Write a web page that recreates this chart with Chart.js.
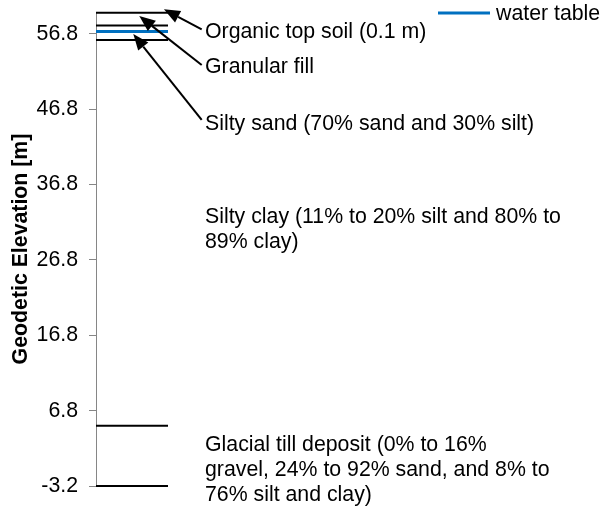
<!DOCTYPE html>
<html>
<head>
<meta charset="utf-8">
<script src="https://cdn.jsdelivr.net/npm/chart.js@4/dist/chart.umd.min.js"></script>
<style>
  body { margin: 0; background: #fff; }
  canvas { display: block; }
</style>
</head>
<body>
<canvas id="myChart" width="603" height="506"></canvas>
<script>
// layer boundaries (geodetic elevation, m)
const layerTops = [59.6, 57.9, 56.0, 4.8, -3.2];
const waterTable = 57.1;
const tickValues = [-3.2, 6.8, 16.8, 26.8, 36.8, 46.8, 56.8];

// layer descriptions: text x, baseline elevation, lines
const labelX = [1.514, 1.514, 1.514, 1.514, 1.514];
const labelY = [56.25, 51.6, 44.04, 31.7, 1.44];
const labelText = [
    ['Organic top soil (0.1 m)'],
    ['Granular fill'],
    ['Silty sand (70% sand and 30% silt)'],
    ['Silty clay (11% to 20% silt and 80% to', '89% clay)'],
    ['Glacial till deposit (0% to 16%', 'gravel, 24% to 92% sand, and 8% to', '76% silt and clay)']
];

// arrows: [tailX, tailY, tipX, tipY]
const arrows = [
    [1.468, 57.40, 0.944, 60.06],
    [1.468, 52.67, 0.601, 59.17],
    [1.468, 45.37, 0.518, 56.78]
];

const FONT = "'Liberation Sans', Arial, sans-serif";
const FSIZE = 21.3;

const datasets = layerTops.map(function (e) {
    return {
        data: [{ x: 0, y: e }, { x: 1, y: e }],
        borderColor: '#000000',
        borderWidth: 2,
        pointRadius: 0,
        showLine: true,
        clip: false
    };
});
datasets.push({
    label: 'water table',
    data: [{ x: 0, y: waterTable }, { x: 1, y: waterTable }],
    borderColor: '#0070C0',
    borderWidth: 3,
    pointRadius: 0,
    showLine: true,
    clip: false
});

// labels, arrows and legend
const notesPlugin = {
    id: 'notes',
    afterDatasetsDraw(chart) {
        const ctx = chart.ctx;
        const xs = chart.scales.x, ys = chart.scales.y;
        ctx.save();
        ctx.fillStyle = '#000';
        ctx.strokeStyle = '#000';
        ctx.font = FSIZE + 'px ' + FONT;
        ctx.textBaseline = 'alphabetic';
        ctx.textAlign = 'left';
        labelText.forEach(function (lines, i) {
            const px = xs.getPixelForValue(labelX[i]);
            const py = ys.getPixelForValue(labelY[i]);
            lines.forEach(function (t, j) {
                ctx.fillText(t, px, py + j * 25);
            });
        });

        arrows.forEach(function (a) {
            const x1 = xs.getPixelForValue(a[0]), y1 = ys.getPixelForValue(a[1]);
            const x2 = xs.getPixelForValue(a[2]), y2 = ys.getPixelForValue(a[3]);
            const ang = Math.atan2(y2 - y1, x2 - x1);
            const len = 16, half = 6.5;
            const bx = x2 - len * Math.cos(ang), by = y2 - len * Math.sin(ang);
            ctx.lineWidth = 2;
            ctx.beginPath();
            ctx.moveTo(x1, y1);
            ctx.lineTo(bx, by);
            ctx.stroke();
            ctx.beginPath();
            ctx.moveTo(x2, y2);
            ctx.lineTo(bx + half * Math.sin(ang), by - half * Math.cos(ang));
            ctx.lineTo(bx - half * Math.sin(ang), by + half * Math.cos(ang));
            ctx.closePath();
            ctx.fill();
        });

        // legend
        const ds = chart.data.datasets[chart.data.datasets.length - 1];
        ctx.strokeStyle = ds.borderColor;
        ctx.lineWidth = 3;
        ctx.beginPath();
        ctx.moveTo(438, 13);
        ctx.lineTo(490, 13);
        ctx.stroke();
        ctx.fillStyle = '#000';
        ctx.fillText(ds.label, 496, 20);
        ctx.restore();
    }
};

const chart = new Chart(document.getElementById('myChart'), {
    type: 'scatter',
    data: { datasets: datasets },
    options: {
        responsive: false,
        animation: false,
        layout: { padding: { left: 0, right: 3, top: 12, bottom: 20 } },
        plugins: { legend: { display: false }, tooltip: { enabled: false } },
        scales: {
            x: { type: 'linear', min: 0, max: 7, display: false },
            y: {
                type: 'linear',
                min: -3.2,
                max: 59.7,
                afterBuildTicks: function (scale) {
                    scale.ticks = tickValues.map(function (v) { return { value: v }; });
                },
                afterFit: function (scale) {
                    scale.width = 96;
                    scale.paddingTop = 0;
                    scale.paddingBottom = 0;
                },
                grid: { drawOnChartArea: false, drawTicks: true, tickLength: 7, color: '#868686' },
                border: { display: true, color: '#868686', width: 1 },
                ticks: {
                    padding: 11,
                    color: '#000',
                    font: { family: FONT, size: FSIZE },
                    callback: function (v) { return v.toFixed(1); }
                },
                title: {
                    display: true,
                    text: 'Geodetic Elevation [m]',
                    color: '#000',
                    font: { family: FONT, size: FSIZE, weight: 'bold' },
                    padding: { top: 8, bottom: 0 }
                }
            }
        }
    },
    plugins: [notesPlugin]
});
</script>
</body>
</html>
